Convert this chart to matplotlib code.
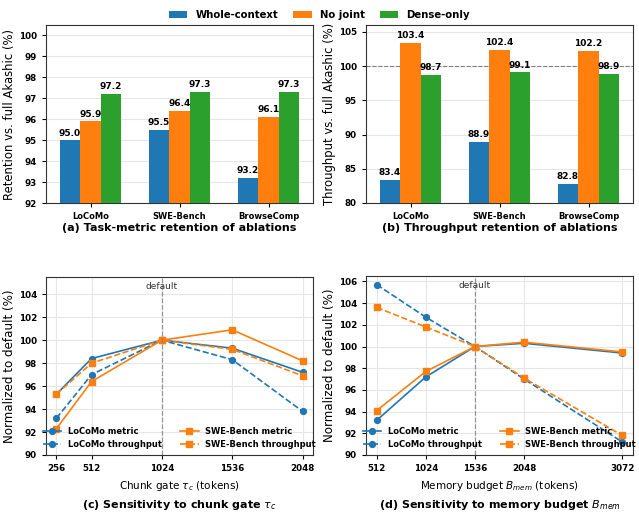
import numpy as np
import matplotlib
matplotlib.use("Agg")
import matplotlib.pyplot as plt

# ablation data (bars)
benchmarks = ["LoCoMo", "SWE-Bench", "BrowseComp"]
variants = ["Whole-context", "No joint", "Dense-only"]
retention = {
    "Whole-context": [95.0, 95.5, 93.2],
    "No joint": [95.9, 96.4, 96.1],
    "Dense-only": [97.2, 97.3, 97.3],
}
throughput = {
    "Whole-context": [83.4, 88.9, 82.8],
    "No joint": [103.4, 102.4, 102.2],
    "Dense-only": [98.7, 99.1, 98.9],
}
colors = ["#1f77b4", "#ff7f0e", "#2ca02c"]

# sensitivity data (lines)
chunk_gate = [256, 512, 1024, 1536, 2048]
chunk_locomo_metric = [95.3, 98.4, 100.0, 99.3, 97.2]
chunk_locomo_tput = [93.2, 97.0, 100.0, 98.3, 93.8]
chunk_swe_metric = [92.3, 96.4, 100.0, 100.9, 98.2]
chunk_swe_tput = [95.3, 98.0, 100.0, 99.2, 96.9]

mem_budget = [512, 1024, 1536, 2048, 3072]
mem_locomo_metric = [93.2, 97.2, 100.0, 100.3, 99.4]
mem_locomo_tput = [105.7, 102.7, 100.0, 97.0, 91.2]
mem_swe_metric = [94.1, 97.7, 100.0, 100.4, 99.5]
mem_swe_tput = [103.6, 101.8, 100.0, 97.1, 91.8]

plt.rcParams["font.size"] = 6
plt.rcParams["axes.edgecolor"] = "#333333"
plt.rcParams["xtick.major.size"] = 3
plt.rcParams["ytick.major.size"] = 3

fig = plt.figure(figsize=(6.39, 5.15), dpi=100)
W, H = 639.0, 515.0


def add_ax(l, t, r, b):
    return fig.add_axes([l / W, 1 - b / H, (r - l) / W, (b - t) / H])


ax_a = add_ax(46, 25, 313, 203)
ax_b = add_ax(366, 25, 633, 203)
ax_c = add_ax(46, 277, 313, 455)
ax_d = add_ax(366, 276, 633, 455)


def bar_panel(ax, data, ylim, yticks, ylabel):
    x = np.arange(len(benchmarks))
    w = 0.23
    for i, v in enumerate(variants):
        bars = ax.bar(x + (i - 1) * w, data[v], w, color=colors[i], label=v, zorder=3)
        for b, val in zip(bars, data[v]):
            ax.text(b.get_x() + b.get_width() / 2, val + (ylim[1] - ylim[0]) * 0.015,
                    f"{val:.1f}", ha="center", va="bottom", fontsize=6.5, fontweight="bold")
    ax.set_xticks(x)
    ax.set_xticklabels(benchmarks, fontweight="bold", fontsize=6)
    ax.set_xlim(-0.5, 2.5)
    ax.set_ylim(*ylim)
    ax.set_yticks(yticks)
    for lbl in ax.get_yticklabels():
        lbl.set_fontweight("bold")
        lbl.set_fontsize(6.3)
    ax.set_ylabel(ylabel, fontsize=8.4, labelpad=2)
    ax.grid(True, axis="y", color="#e6e6e6", linewidth=0.8, zorder=0)
    ax.set_axisbelow(True)


bar_panel(ax_a, retention, (92, 100.5), range(92, 101), "Retention vs. full Akashic (%)")
bar_panel(ax_b, throughput, (80, 106), range(80, 106, 5), "Throughput vs. full Akashic (%)")
ax_b.axhline(100, color="gray", linestyle="--", linewidth=0.8, zorder=2)

handles, labels = ax_a.get_legend_handles_labels()
fig.legend(handles, labels, loc="center", ncol=3, frameon=False,
           bbox_to_anchor=(0.5, 1 - 15 / H), prop={"weight": "bold", "size": 7.3},
           handlelength=1.8, handleheight=0.8, handletextpad=0.8, columnspacing=1.5)


def line_panel(ax, xs, lm, lt, sm, st, ylim, yticks, default, xlabel):
    kw = dict(ms=4.2, lw=1.2)
    ax.plot(xs, lm, color=colors[0], marker="o", label="LoCoMo metric", **kw)
    ax.plot(xs, lt, color=colors[0], marker="o", ls="--", label="LoCoMo throughput", **kw)
    ax.plot(xs, sm, color=colors[1], marker="s", label="SWE-Bench metric", **kw)
    ax.plot(xs, st, color=colors[1], marker="s", ls="--", label="SWE-Bench throughput", **kw)
    ax.axvline(default, color="gray", ls="--", lw=0.9, alpha=0.8)
    ax.set_ylim(*ylim)
    ax.set_yticks(yticks)
    ax.set_xticks(xs)
    for lbl in ax.get_xticklabels() + ax.get_yticklabels():
        lbl.set_fontweight("bold")
        lbl.set_fontsize(6.3)
    ax.text(default, ylim[1] - (ylim[1] - ylim[0]) * 0.03, "default",
            ha="center", va="top", fontsize=6.5, color="#333333")
    ax.set_ylabel("Normalized to default (%)", fontsize=8.6, labelpad=2)
    ax.set_xlabel(xlabel, fontsize=7.5)
    ax.grid(True, color="#e6e6e6", linewidth=0.8)
    ax.set_axisbelow(True)
    ax.legend(loc="lower center", ncol=2, frameon=False, prop={"weight": "bold", "size": 6},
              columnspacing=2.2, handlelength=2.2, handletextpad=0.8,
              labelspacing=0.5, borderaxespad=0.3)


line_panel(ax_c, chunk_gate, chunk_locomo_metric, chunk_locomo_tput, chunk_swe_metric,
           chunk_swe_tput, (90, 105.5), range(90, 105, 2), 1024, r"Chunk gate $\tau_c$ (tokens)")
ax_c.set_xlim(180, 2124)
line_panel(ax_d, mem_budget, mem_locomo_metric, mem_locomo_tput, mem_swe_metric,
           mem_swe_tput, (90, 106.5), range(90, 107, 2), 1536, r"Memory budget $B_{mem}$ (tokens)")
ax_d.set_xlim(400, 3184)

fig.text((46 + 313) / 2 / W, 1 - 228 / H, "(a) Task-metric retention of ablations",
         ha="center", va="center", fontsize=8, fontweight="bold")
fig.text((366 + 633) / 2 / W, 1 - 228 / H, "(b) Throughput retention of ablations",
         ha="center", va="center", fontsize=8, fontweight="bold")
fig.text((46 + 313) / 2 / W, 1 - 505 / H, r"(c) Sensitivity to chunk gate $\tau_c$",
         ha="center", va="center", fontsize=8, fontweight="bold")
fig.text((366 + 633) / 2 / W, 1 - 505 / H, r"(d) Sensitivity to memory budget $B_{mem}$",
         ha="center", va="center", fontsize=8, fontweight="bold")

fig.savefig("out.png", dpi=100)
